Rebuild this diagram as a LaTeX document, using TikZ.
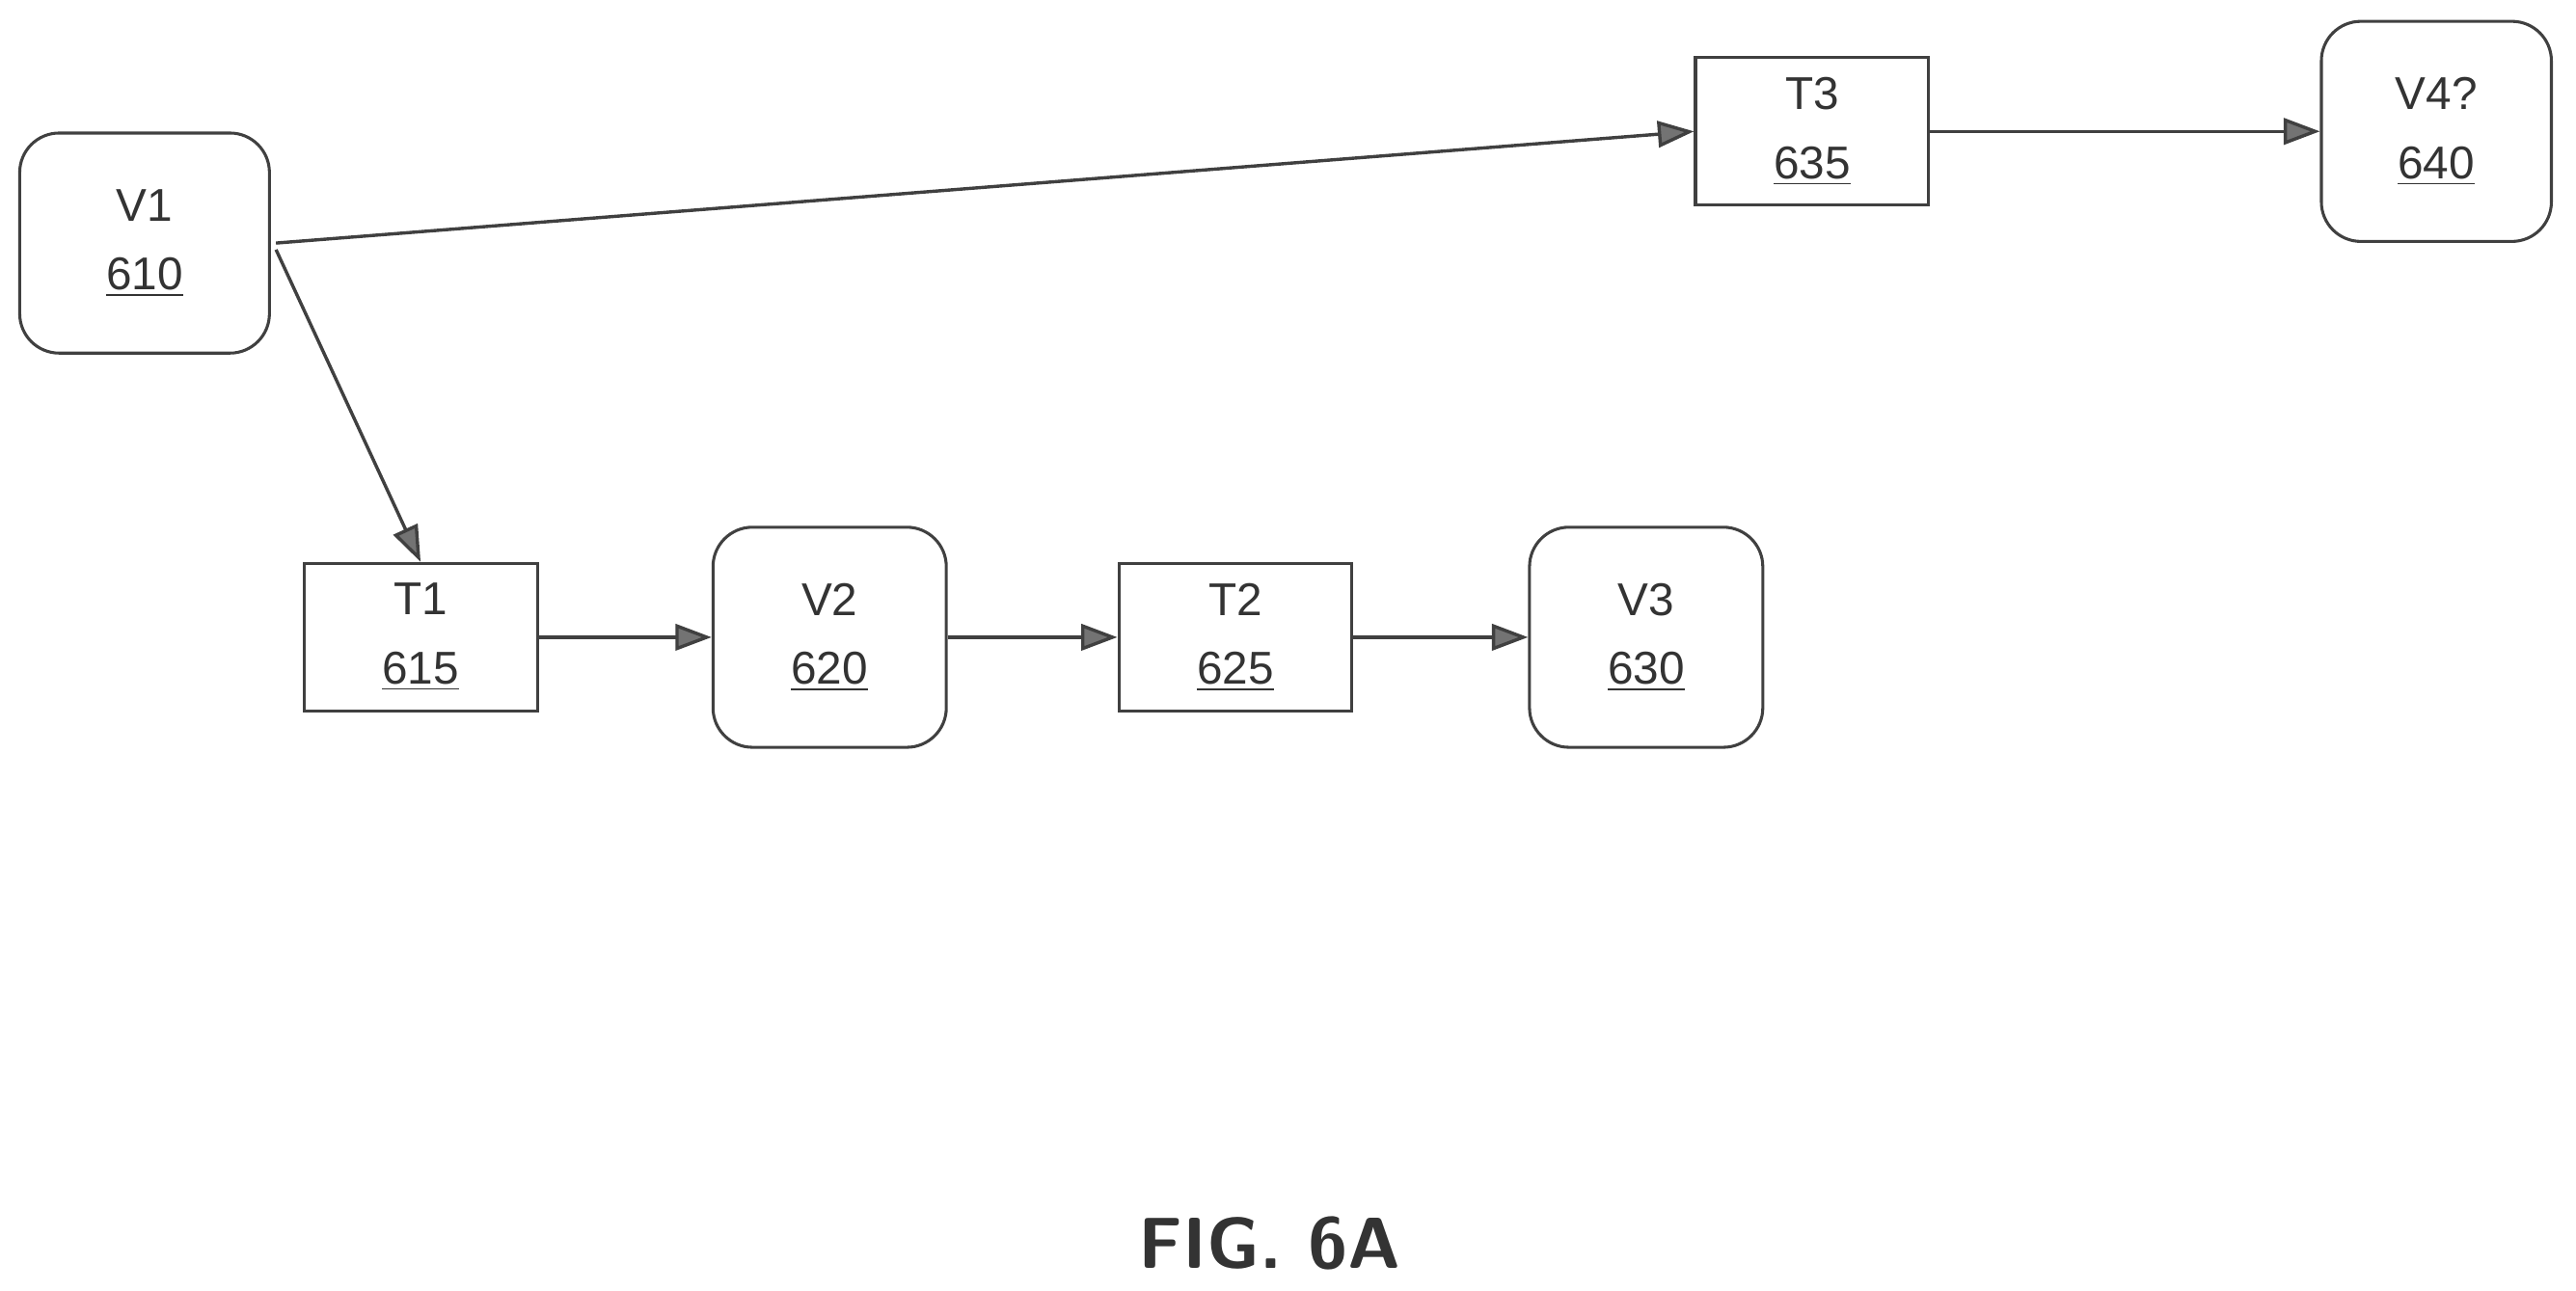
\documentclass[tikz,border=0pt]{standalone}
\usepackage{fontspec}
\setmainfont{Liberation Sans}
\usetikzlibrary{arrows.meta}
\begin{document}
\begin{tikzpicture}[x=0.5pt,y=-0.5pt,
  every node/.style={font=\fontsize{14}{21}\selectfont, align=center, text=black!80, draw=black!75, line width=0.9pt, inner sep=0pt},
  v/.style={rounded corners=12pt, minimum width=71pt, minimum height=67pt},
  t/.style={minimum width=71pt, minimum height=45pt},
  con/.style={draw=black!75, line width=1pt, -{Triangle[length=11pt,width=8pt,fill=black!55]}}]
\useasboundingbox (0,0) rectangle (1568,786);
\node[v,minimum width=76pt] (v1) at (88,148) {V1\\\underline{610}};
\node[t] (t3) at (1103,80) {T3\\\underline{635}};
\node[v,minimum width=70pt] (v4) at (1483,80) {V4?\\\underline{640}};
\node[t] (t1) at (256,388) {T1\\\underline{615}};
\node[v] (v2) at (505,388) {V2\\\underline{620}};
\node[t] (t2) at (752,388) {T2\\\underline{625}};
\node[v] (v3) at (1002,388) {V3\\\underline{630}};
\node[draw=none, font=\sffamily\bfseries\fontsize{22}{26}\selectfont] (fig) at (773,757) {FIG. 6A};
\coordinate (s1) at (168,148);
\coordinate (s2) at (168,152);
\draw[con] (s1) -- (t3.west);
\draw[con] (s2) -- (t1.north);
\draw[con] (t3) -- (v4);
\draw[con] (t1) -- (v2);
\draw[con] (v2) -- (t2);
\draw[con] (t2) -- (v3);
\end{tikzpicture}
\end{document}
